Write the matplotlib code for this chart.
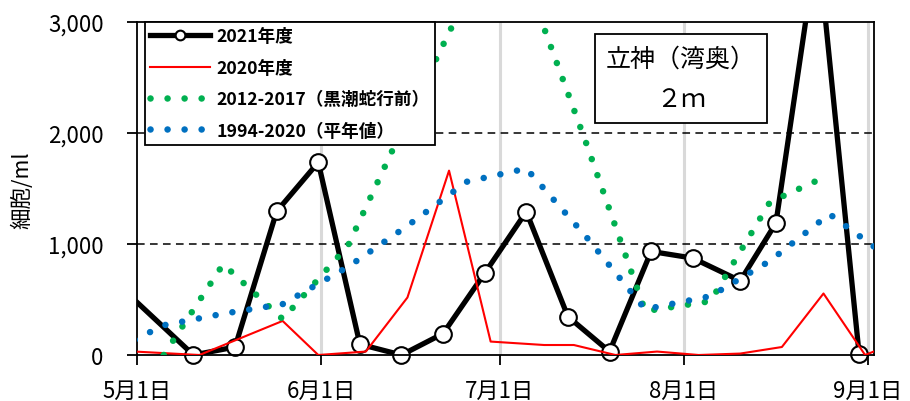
import matplotlib
matplotlib.use('Agg')
import matplotlib.pyplot as plt
from matplotlib.lines import Line2D
from matplotlib.patches import Rectangle
from matplotlib.ticker import FuncFormatter
import numpy as np
import pandas as pd

plt.rcParams['font.family'] = ['Noto Sans CJK JP', 'DejaVu Sans']

# 2021年度 (weekly samples)
dates_2021 = ['2021-04-26', '2021-05-10', '2021-05-17', '2021-05-24', '2021-05-31',
              '2021-06-07', '2021-06-14', '2021-06-21', '2021-06-28', '2021-07-05',
              '2021-07-12', '2021-07-19', '2021-07-26', '2021-08-02', '2021-08-10',
              '2021-08-16', '2021-08-23', '2021-08-30']
vals_2021 = [700, 0, 72, 1294, 1736, 97, 0, 193, 737, 1291, 346, 31, 933, 873, 668,
             1189, 3730, 5]

# 2020年度
dates_2020 = ['2021-04-27', '2021-05-11', '2021-05-25', '2021-05-31', '2021-06-08',
              '2021-06-15', '2021-06-22', '2021-06-29', '2021-07-08', '2021-07-13',
              '2021-07-20', '2021-07-27', '2021-08-03', '2021-08-10', '2021-08-17',
              '2021-08-24', '2021-08-31', '2021-09-07']
vals_2020 = [40, 0, 307, 0, 31, 518, 1661, 121, 90, 90, 0, 31, 0, 13, 72, 554, 0, 150]

# 2012-2017 (黒潮蛇行前), 10-day means
dates_green = ['2021-05-05', '2021-05-15', '2021-05-25', '2021-06-05', '2021-06-15',
               '2021-06-25', '2021-07-05', '2021-07-15', '2021-07-25', '2021-08-05',
               '2021-08-15', '2021-08-25']
vals_green = [0, 818, 323, 985, 2134, 3234, 3382, 1920, 395, 485, 1378, 1622]

# 1994-2020 (平年値), 10-day means
dates_blue = ['2021-04-25', '2021-05-05', '2021-05-15', '2021-05-25', '2021-06-05',
              '2021-06-15', '2021-06-25', '2021-07-05', '2021-07-15', '2021-07-25',
              '2021-08-05', '2021-08-15', '2021-08-25', '2021-09-05']
vals_blue = [0, 268, 372, 458, 794, 1164, 1561, 1680, 1070, 412, 530, 848, 1270, 839]

labels = ['2021年度', '2020年度', '2012-2017（黒潮蛇行前）', '1994-2020（平年値）']
month_ticks = ['2021-05-01', '2021-06-01', '2021-07-01', '2021-08-01', '2021-09-01']
tick_labels = ['5月1日', '6月1日', '7月1日', '8月1日', '9月1日']

half = pd.Timedelta(hours=12)
def to_x(d):
    return pd.to_datetime(d) + half

GREEN = '#00B050'
BLUE = '#0070C0'
dot_style = (0, (0.01, 2.6))

fig = plt.figure(figsize=(9.1, 4.02), dpi=100)
ax = fig.add_axes([137/910, 1-356/402, 737/910, 333/402])

xmin, xmax = pd.Timestamp('2021-05-01'), pd.Timestamp('2021-09-02')
ax.set_xlim(xmin, xmax)
ax.set_ylim(0, 3000)

# grid
for m in month_ticks[1:]:
    ax.axvline(pd.Timestamp(m), color='#d9d9d9', lw=2.2, zorder=0)
for yv in [1000, 2000]:
    ax.axhline(yv, color='black', lw=1.1, dashes=(5, 3.5), zorder=0.5)

x21 = to_x(dates_2021)
v21 = np.array(vals_2021)
ax.plot(x21, v21, color='black', lw=3.8, zorder=2)
m = (x21 >= xmin) & (x21 <= xmax) & (v21 <= 3000)
ax.plot(x21[m], v21[m], ls='none', marker='o', ms=12, mfc='white', mec='black',
        mew=1.5, clip_on=False, zorder=2.1)

ax.plot(to_x(dates_2020), vals_2020, color='red', lw=1.5, zorder=3)
ax.plot(to_x(dates_green), vals_green, color=GREEN, lw=4.7, ls=dot_style,
        dash_capstyle='round', zorder=4)
ax.plot(to_x(dates_blue), vals_blue, color=BLUE, lw=4.7, ls=dot_style,
        dash_capstyle='round', zorder=5)

ax.set_xticks([pd.Timestamp(t) for t in month_ticks])
ax.set_xticklabels(tick_labels)
ax.set_yticks([0, 1000, 2000, 3000])
ax.yaxis.set_major_formatter(FuncFormatter(lambda v, p: f'{int(v):,}'))
ax.tick_params(axis='both', direction='out', length=7, width=1.3, labelsize=16,
               color='black')
ax.tick_params(axis='x', pad=10)
ax.tick_params(axis='y', pad=17)
for s in ax.spines.values():
    s.set_linewidth(1.3)
    s.set_color('black')

fig.text(22/910, 1-190/402, '細胞/ml', rotation=90, fontsize=15.5, va='center', ha='center')

handles = [
    Line2D([], [], color='black', lw=3.8, marker='o', ms=7, mfc='white', mec='black', mew=1.5),
    Line2D([], [], color='red', lw=1.5),
    Line2D([], [], color=GREEN, lw=4.7, ls=dot_style, dash_capstyle='round'),
    Line2D([], [], color=BLUE, lw=4.7, ls=dot_style, dash_capstyle='round'),
]
leg = ax.legend(handles, labels, loc='upper left', bbox_to_anchor=(145/910, 1-23/402),
                bbox_transform=fig.transFigure, frameon=True, fancybox=False,
                edgecolor='black', framealpha=1, prop={'weight': 'bold', 'size': 12.7},
                handlelength=3.4, borderaxespad=0, borderpad=0.3, labelspacing=0.76,
                handletextpad=0.35)
leg.get_frame().set_linewidth(1.3)
leg.set_zorder(10)

# station label box
fig.patches.append(Rectangle((595/910, 1-124/402), 172/910, 89/402, transform=fig.transFigure,
                             facecolor='white', edgecolor='black', lw=1.3, zorder=5))
fig.text(681/910, 1-60/402, '立神（湾奥）', fontsize=18, ha='center', va='center', zorder=6)
fig.text(681/910, 1-100/402, '２ｍ', fontsize=18, ha='center', va='center', zorder=6)

fig.savefig('out.png', dpi=100)
